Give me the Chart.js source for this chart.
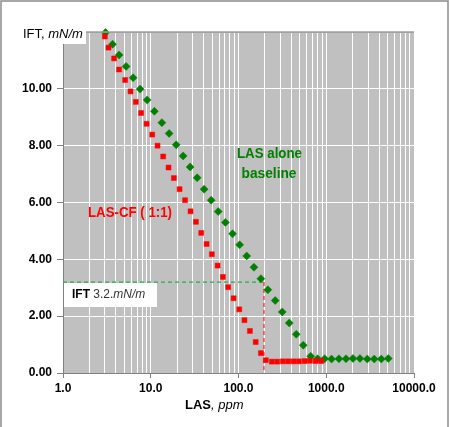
<!DOCTYPE html>
<html>
<head>
<meta charset="utf-8">
<script src="https://cdn.jsdelivr.net/npm/chart.js@4.4.0/dist/chart.umd.min.js"></script>
<style>
html, body { margin: 0; padding: 0; background: #fff; }
</style>
</head>
<body>
<canvas id="iftChart" width="450" height="427"></canvas>
<script>

// LAS alone (baseline) - green diamonds
var lasX = [3.05, 3.67, 4.36, 5.24, 6.30, 7.57, 9.10, 11.0, 13.4, 16.2,
            19.5, 23.4, 28.1, 33.8, 40.6, 48.8, 58.7, 70.9, 85.6, 103,
            124, 150, 180, 216, 262, 315, 379, 455, 547, 664,
            798, 959, 1150, 1395, 1680, 2015, 2420, 2935, 3525, 4240, 5090];
var lasY = [11.98, 11.57, 11.19, 10.79, 10.39, 9.99, 9.61, 9.21, 8.81, 8.43,
            8.03, 7.64, 7.25, 6.87, 6.47, 6.08, 5.68, 5.30, 4.90, 4.51,
            4.12, 3.72, 3.32, 2.93, 2.55, 2.15, 1.76, 1.36, 0.98, 0.59,
            0.50, 0.50, 0.49, 0.50, 0.50, 0.51, 0.51, 0.49, 0.49, 0.49, 0.51];

// LAS-CF (1:1) - red squares
var cfX = [3.0, 3.3, 3.82, 4.36, 5.11, 5.88, 6.76, 7.77, 8.96, 10.4,
           11.95, 13.85, 15.96, 18.34, 21.3, 24.6, 28.4, 32.7, 37.6, 43.3,
           49.7, 57.8, 66.4, 76.3, 87.9, 102, 117, 135, 157, 180,
           205, 240, 276, 321, 369, 425, 488, 567, 652, 757, 877];
var cfY = [11.84, 11.45, 11.07, 10.68, 10.31, 9.91, 9.54, 9.15, 8.77, 8.39,
           8.00, 7.62, 7.23, 6.86, 6.47, 6.08, 5.69, 5.32, 4.93, 4.54,
           4.18, 3.78, 3.38, 3.02, 2.63, 2.24, 1.86, 1.48, 1.09, 0.70,
           0.45, 0.40, 0.40, 0.41, 0.41, 0.41, 0.41, 0.42, 0.43, 0.42, 0.42];

// 3.2 mN/m guide lines
var markY = 3.2;
var markLineX = [1, 190];
var markCmc = 195;

// axes
var xMajor = [1, 10, 100, 1000, 10000];
var xMinorSteps = [1, 2, 3, 4, 5, 6, 7, 8, 9];
var yMin = 0, yMax = 12, yStep = 2;

function pairs(xs, ys) {
  return xs.map(function (x, i) { return {x: x, y: ys[i]}; });
}

var xTickValues = [];
xMajor.forEach(function (d, i) {
  if (i === xMajor.length - 1) { xTickValues.push(d); return; }
  xMinorSteps.forEach(function (m) { xTickValues.push(d * m); });
});

// background + extra text
var decor = {
  id: 'decor',
  beforeDraw: function (chart) {
    var ctx = chart.ctx, a = chart.chartArea;
    ctx.save();
    ctx.fillStyle = '#c0c0c0';
    ctx.fillRect(a.left, a.top, a.right - a.left, a.bottom - a.top);
    ctx.restore();
  },
  afterDraw: function (chart) {
    var ctx = chart.ctx, a = chart.chartArea;
    ctx.save();

    // top edge of plot
    ctx.strokeStyle = '#a0a0a0';
    ctx.lineWidth = 1.5;
    ctx.beginPath();
    ctx.moveTo(a.left, a.top);
    ctx.lineTo(a.right, a.top);
    ctx.stroke();

    // outer frame
    ctx.strokeStyle = '#8c8c8c';
    ctx.lineWidth = 1.5;
    ctx.strokeRect(1, 1, 447, 600);

    ctx.textBaseline = 'alphabetic';
    ctx.textAlign = 'left';

    // y title
    ctx.fillStyle = '#fff';
    ctx.fillRect(22, 27, 64, 17);
    ctx.fillStyle = '#000';
    ctx.font = '13px "Liberation Sans", Arial, sans-serif';
    ctx.fillText('IFT, ', 23, 38);
    var w = ctx.measureText('IFT, ').width;
    ctx.font = 'italic 13px "Liberation Sans", Arial, sans-serif';
    ctx.fillText('mN/m', 23 + w, 38);

    // x title
    ctx.font = 'bold 13px "Liberation Sans", Arial, sans-serif';
    ctx.fillText('LAS', 185, 409);
    w = ctx.measureText('LAS').width;
    ctx.font = 'italic 13px "Liberation Sans", Arial, sans-serif';
    ctx.fillText(', ppm', 185 + w, 409);

    // IFT 3.2 box
    ctx.fillStyle = '#fff';
    ctx.fillRect(64, 283, 93, 24);
    ctx.fillStyle = '#000';
    ctx.font = 'bold 12px "Liberation Sans", Arial, sans-serif';
    ctx.fillText('IFT ', 72, 298);
    w = ctx.measureText('IFT ').width;
    ctx.fillStyle = '#333';
    ctx.font = '12px "Liberation Sans", Arial, sans-serif';
    ctx.fillText('3.2.', 72 + w, 298);
    w += ctx.measureText('3.2.').width;
    ctx.font = 'italic 12px "Liberation Sans", Arial, sans-serif';
    ctx.fillText('mN/m', 72 + w, 298);

    // series labels
    ctx.textBaseline = 'middle';
    ctx.textAlign = 'left';
    ctx.fillStyle = '#ff0000';
    ctx.font = 'bold 14px "Liberation Sans", Arial, sans-serif';
    ctx.fillText('LAS-CF ( 1:1)', 88, 213, 84);

    ctx.textAlign = 'center';
    ctx.fillStyle = '#008000';
    ctx.fillText('LAS alone', 269.5, 154, 65);
    ctx.fillText('baseline', 269, 174, 55);

    ctx.restore();
  }
};

var tickFont = {family: '"Liberation Sans", Arial, sans-serif', size: 12, weight: 'bold'};

new Chart('iftChart', {
  type: 'scatter',
  data: {
    datasets: [{
      label: 'LAS alone baseline',
      data: pairs(lasX, lasY),
      pointStyle: 'rectRot',
      pointRadius: 4,
      pointBackgroundColor: '#008000',
      pointBorderColor: '#008000',
      pointBorderWidth: 0.5,
      clip: false,
      order: 2
    }, {
      label: 'LAS-CF (1:1)',
      data: pairs(cfX, cfY),
      pointStyle: 'rect',
      pointRadius: 3.5,
      pointBackgroundColor: '#ff0000',
      pointBorderColor: '#ff0000',
      pointBorderWidth: 0.5,
      clip: false,
      order: 1
    }, {
      type: 'line',
      label: 'IFT 3.2',
      data: [{x: markLineX[0], y: markY}, {x: markLineX[1], y: markY}],
      borderColor: '#22b04a',
      borderWidth: 1.3,
      borderDash: [4, 3],
      pointRadius: 0,
      fill: false,
      order: 3
    }, {
      type: 'line',
      label: 'cut',
      data: [{x: markCmc, y: markY}, {x: markCmc, y: 0}],
      borderColor: '#ff2a2a',
      borderWidth: 1.3,
      borderDash: [4, 3],
      pointRadius: 0,
      fill: false,
      order: 3
    }]
  },
  options: {
    responsive: false,
    animation: false,
    layout: {padding: {left: 0, top: 32, right: 36, bottom: 0}},
    plugins: {
      legend: {display: false},
      tooltip: {enabled: false}
    },
    scales: {
      x: {
        type: 'logarithmic',
        min: 1,
        max: 10000,
        afterBuildTicks: function (scale) {
          scale.ticks = xTickValues.map(function (v) { return {value: v}; });
        },
        afterFit: function (scale) { scale.height = 54; },
        border: {color: '#808080', width: 1},
        grid: {
          color: '#ffffff',
          lineWidth: 1,
          tickLength: 5,
          tickColor: function (c) {
            return c.tick && xMajor.indexOf(c.tick.value) >= 0 ? '#808080' : 'rgba(0,0,0,0)';
          }
        },
        ticks: {
          autoSkip: false,
          maxRotation: 0,
          padding: 3,
          color: '#000',
          font: tickFont,
          callback: function (v) {
            return xMajor.indexOf(v) >= 0 ? v.toFixed(1) : '';
          }
        }
      },
      y: {
        min: yMin,
        max: yMax,
        afterFit: function (scale) { scale.width = 63; },
        border: {color: '#808080', width: 1},
        grid: {
          color: function (c) {
            return c.tick && c.tick.value === yMax ? '#a0a0a0' : '#ffffff';
          },
          lineWidth: 1,
          tickLength: 6,
          tickColor: '#808080'
        },
        ticks: {
          stepSize: yStep,
          padding: 5,
          color: '#000',
          font: tickFont,
          callback: function (v) {
            return v === yMax ? '' : v.toFixed(2);
          }
        }
      }
    }
  },
  plugins: [decor]
});
</script>
</body>
</html>
